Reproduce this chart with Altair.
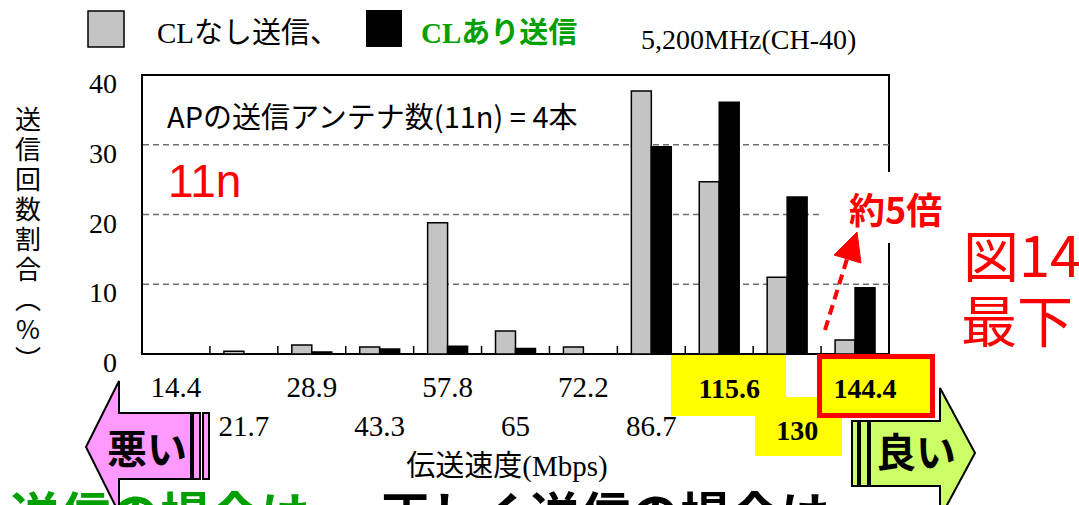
import altair as alt
import pandas as pd

# ---- data -------------------------------------------------------------
speeds = ["14.4", "21.7", "28.9", "43.3", "57.8", "65", "72.2",
          "86.7", "115.6", "130", "144.4"]
cl_off = [0.0, 0.4, 1.3, 1.0, 18.8, 3.3, 1.0, 37.7, 24.7, 11.0, 2.0]
cl_on = [0.0, 0.0, 0.3, 0.7, 1.1, 0.8, 0.0, 29.7, 36.1, 22.5, 9.5]
series = ["CLなし送信", "CLあり送信"]
y_ticks = [0, 10, 20, 30, 40]
grid_values = [10, 20, 30]
highlighted = ["115.6", "130", "144.4"]

# ---- layout -----------------------------------------------------------
W, H = 747, 279          # plot area
LEFT, TOP = 142, 75      # plot origin on the page
SERIF = "Liberation Serif, Noto Sans CJK JP"
GOTHIC = "Noto Sans CJK JP"
RED = "#ff0000"
GREEN = "#00a000"
PATTERN_GRAY = "#c4c4c4"

bar_df = pd.DataFrame({
    "speed": speeds * 2,
    "series": [series[0]] * len(speeds) + [series[1]] * len(speeds),
    "value": cl_off + cl_on,
})
lab_df = pd.DataFrame({
    "speed": speeds,
    "row": [i % 2 for i in range(len(speeds))],
    "bold": [s in highlighted for s in speeds],
})

x_enc = alt.X("speed:N", sort=speeds, axis=None,
              scale=alt.Scale(paddingInner=0, paddingOuter=0))
y_scale = alt.Scale(domain=[0, 40])


def one(text):
    return alt.Chart(pd.DataFrame({"label": [text]}))


def px(x):
    return x - LEFT


def py(y):
    return y - TOP


def text_at(text, x, y, size, font=GOTHIC, color="black", weight="normal",
            align="left", baseline="alphabetic"):
    return one(text).mark_text(
        align=align, baseline=baseline, font=font, fontSize=size,
        fontWeight=weight, color=color,
    ).encode(x=alt.value(px(x)), y=alt.value(py(y)), text="label:N")


def box(x1, x2, y1, y2, fill, stroke=None, sw=0):
    kw = dict(fill=fill, strokeWidth=sw)
    if stroke:
        kw["stroke"] = stroke
    return one("").mark_rect(**kw).encode(
        x=alt.value(px(x1)), x2=alt.value(px(x2)),
        y=alt.value(py(y1)), y2=alt.value(py(y2)))


def shape_at(path, x, y, fill, stroke="black", sw=2):
    return one("").mark_point(
        shape=path, size=4, filled=True, fill=fill, stroke=stroke,
        strokeWidth=sw, opacity=1, fillOpacity=1,
    ).encode(x=alt.value(px(x)), y=alt.value(py(y)))


# dashed horizontal grid
grid = alt.Chart(pd.DataFrame({"g": grid_values})).mark_rule(
    color="#6e6e6e", strokeWidth=1.5, strokeDash=[6, 4]
).encode(y=alt.Y("g:Q", scale=y_scale, axis=None))

# y tick labels, placed through the y scale
y_labels = alt.Chart(pd.DataFrame({"v": y_ticks})).mark_text(
    align="right", baseline="middle", font="Liberation Serif", fontSize=28,
    color="black", dy=10,
).encode(x=alt.value(-25), y=alt.Y("v:Q", scale=y_scale, axis=None),
         text="v:Q")

# white patch behind the "約5倍" note
mask = box(822, 955, 172, 243, "white")

bars = alt.Chart(bar_df).mark_bar(stroke="black", strokeWidth=1.5).encode(
    x=x_enc,
    xOffset=alt.XOffset("series:N", sort=series,
                        scale=alt.Scale(paddingInner=0, paddingOuter=0.7)),
    y=alt.Y("value:Q", scale=y_scale, axis=None),
    color=alt.Color("series:N", legend=None,
                    scale=alt.Scale(domain=series, range=[PATTERN_GRAY, "black"])),
)

# inward tick marks at the category boundaries
ticks = alt.Chart(pd.DataFrame({"speed": speeds})).mark_rule(
    color="black", strokeWidth=1.5
).encode(x=alt.X("speed:N", sort=speeds, axis=None, bandPosition=0),
         y=alt.value(H - 8), y2=alt.value(H))

# highlight boxes under the fastest rates
yellow1 = box(671, 786, 355, 416, "#ffff00")
yellow2 = box(755, 842, 397, 456, "#ffff00")
redbox = box(819.5, 932.5, 356.5, 415.5, "#ffff00", RED, 5)


def x_labels(row, bold, y):
    src = lab_df[(lab_df["row"] == row) & (lab_df["bold"] == bold)]
    return alt.Chart(src).mark_text(
        font="Liberation Serif", fontSize=28 if bold else 29,
        fontWeight="bold" if bold else "normal", color="black",
        baseline="alphabetic", dx=10 if bold else 0,
    ).encode(x=x_enc, y=alt.value(py(y)), text="speed:N")


labels = [
    x_labels(0, False, 397), x_labels(1, False, 436),
    x_labels(0, True, 398), x_labels(1, True, 440),
]

x_title = text_at("伝送速度(Mbps)", 507, 476, 29, font=SERIF, align="center")
y_title = one("").mark_text(
    font=GOTHIC, fontSize=26, lineHeight=30, align="center", baseline="top",
    color="black",
).encode(x=alt.value(px(28)), y=alt.value(py(108)),
         text=alt.value(["送", "信", "回", "数", "割", "合", "︵", "%", "︶"]))

# legend row
legend = [
    box(88, 124, 11, 47, PATTERN_GRAY, "black", 1.5),
    text_at("CLなし送信、", 157, 43, 29, font=SERIF),
    box(366, 402, 10, 47, "black"),
    text_at("CLあり送信", 421, 43, 29, font=SERIF, color=GREEN, weight="bold"),
    text_at("5,200MHz(CH-40)", 641, 49, 28, font=SERIF),
]

notes = [
    text_at("APの送信アンテナ数(11n) = 4本", 167, 128, 29),
    text_at("11n", 168, 197, 46, font="Liberation Sans", color=RED),
    text_at("約5倍", 849, 224, 36, color=RED, weight="bold"),
    text_at("図14", 963, 277, 56, color=RED),
    text_at("最下", 961, 342, 56, color=RED),
]

# red dashed arrow towards the note
red_arrow = [
    one("").mark_rule(color=RED, strokeWidth=4, strokeDash=[10, 6]).encode(
        x=alt.value(px(825)), y=alt.value(py(330)),
        x2=alt.value(px(847)), y2=alt.value(py(259))),
    shape_at("M0,0 L-23,23 L4,31 Z", 857, 232, RED, RED, 1),
]

# bad / good arrows beside the rate labels
left_arrow = ("M0,0 L33,-66 L33,-34 L105,-34 L105,32 L33,32 L33,66 Z "
              "M107,-34 L114,-34 L114,32 L107,32 Z "
              "M117,-34 L123,-34 L123,32 L117,32 Z")
right_arrow = ("M0,0 L-35,-65 L-35,-32 L-105,-32 L-105,33 L-35,33 L-35,65 Z "
               "M-107,-32 L-115,-32 L-115,33 L-107,33 Z "
               "M-117,-32 L-123,-32 L-123,33 L-117,33 Z")
arrows = [
    shape_at(left_arrow, 86, 447, "#ff99ff"),
    text_at("悪い", 147, 452, 40, weight="bold", align="center", baseline="middle"),
    shape_at(right_arrow, 975, 453, "#ccff66"),
    text_at("良い", 916, 455, 40, weight="bold", align="center", baseline="middle"),
]

# caption line running off the bottom edge
caption = [
    text_at("送信の場合は、", 10, 534, 50, color=GREEN, weight="bold"),
    text_at("正しく送信の場合は", 380, 534, 50, weight="bold"),
]

chart = alt.layer(
    grid, mask, bars, ticks, y_labels, yellow1, yellow2, redbox, *labels,
    x_title, y_title, *legend, *notes, *red_arrow, *caption, *arrows,
).properties(
    width=W, height=H, background="white",
    padding={"left": LEFT, "top": TOP, "right": 1079 - LEFT - W,
             "bottom": 505 - TOP - H},
    autosize=alt.AutoSizeParams(type="none"),
).configure_view(
    stroke="black", strokeWidth=2
)

chart.save("out.html", embed_options={"renderer": "svg", "actions": False})
